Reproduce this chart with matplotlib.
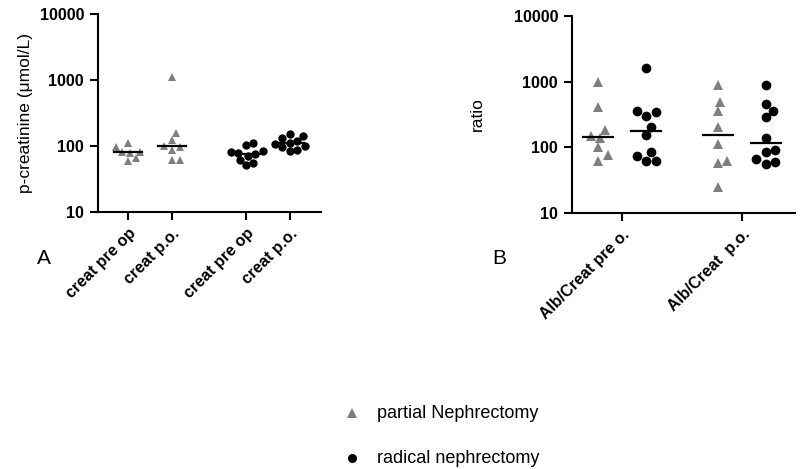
import numpy as np
import matplotlib.pyplot as plt
from matplotlib.lines import Line2D

plt.rcParams["font.family"] = ["Liberation Sans", "DejaVu Sans"]

# panel A: p-creatinine (umol/L)
a_labels = ["creat pre op", "creat p.o.", "creat pre op", "creat p.o."]
a_partial_pre = [95, 110, 82, 80, 78, 65, 60]
a_partial_po = [1100, 157, 125, 100, 98, 86, 62, 61]
a_radical_pre = [111, 103, 85, 81, 78, 75, 70, 61, 55, 52]
a_radical_po = [150, 140, 130, 118, 112, 108, 100, 95, 88, 85]

# panel B: albumin / creatinine ratio
b_labels = ["Alb/Creat pre o.", "Alb/Creat  p.o."]
b_partial_pre = [980, 410, 184, 151, 137, 100, 76, 63]
b_radical_pre = [1600, 362, 341, 303, 202, 154, 84, 75, 63, 63]
b_partial_po = [890, 486, 355, 201, 112, 63, 58, 25]
b_radical_po = [890, 460, 360, 286, 139, 92, 86, 66, 60, 55]

legend_labels = ["partial Nephrectomy", "radical nephrectomy"]

grey = "#7f7f7f"


def swarm(vals, diam, px_unit, px_dec):
    # simple beeswarm: offsets (data units) so markers of diameter diam px don't overlap
    ys = np.log10(vals) * px_dec
    order = np.argsort(ys)
    placed = []
    offs = np.zeros(len(vals))
    steps = [0]
    for k in range(1, 40):
        steps += [k * diam / 4, -k * diam / 4]
    for i in order:
        for s in steps:
            ok = all((s - px) ** 2 + (ys[i] - py) ** 2 >= (diam * 0.95) ** 2 for px, py in placed)
            if ok:
                placed.append((s, ys[i]))
                offs[i] = s / px_unit
                break
    return offs


def draw_group(ax, x, vals, marker, color, ms, diam, px_unit, px_dec, half):
    offs = swarm(vals, diam, px_unit, px_dec)
    ax.plot(x + offs, vals, linestyle="none", marker=marker, color=color,
            markersize=ms, markeredgewidth=0, clip_on=False, zorder=3)
    med = np.median(vals)
    ax.plot([x - half, x + half], [med, med], color="black", lw=1.6, zorder=4)


def style(ax):
    ax.set_yscale("log")
    ax.set_ylim(10, 10000)
    ax.set_yticks([10, 100, 1000, 10000])
    ax.set_yticklabels(["10", "100", "1000", "10000"])
    ax.minorticks_off()
    for sp in ["top", "right"]:
        ax.spines[sp].set_visible(False)
    for sp in ["left", "bottom"]:
        ax.spines[sp].set_linewidth(1.5)
    ax.tick_params(direction="out", length=6, width=1.5, pad=4, labelsize=11.5)
    for t in ax.get_yticklabels():
        t.set_fontweight("bold")


fig = plt.figure(figsize=(8, 4.69), dpi=100)

# panel A
axA = fig.add_axes([98 / 800, 1 - 212 / 469, 223 / 800, 198 / 469])
style(axA)
xa = [0, 1, 2.68, 3.68]
axA.set_xlim(-0.68, 4.39)
draw_group(axA, xa[0], a_partial_pre, "^", grey, 6.3, 8, 44, 66, 0.32)
draw_group(axA, xa[1], a_partial_po, "^", grey, 6.3, 8, 44, 66, 0.32)
draw_group(axA, xa[2], a_radical_pre, "o", "black", 6, 7.5, 44, 66, 0.32)
draw_group(axA, xa[3], a_radical_po, "o", "black", 6, 7.5, 44, 66, 0.32)
axA.set_xticks(xa)
axA.set_xticklabels(a_labels, rotation=45, ha="right", rotation_mode="anchor",
                    fontweight="bold")
axA.set_ylabel("p-creatinine (\u03bcmol/L)", fontsize=12.5, labelpad=5)

# panel B
axB = fig.add_axes([572 / 800, 1 - 213 / 469, 223 / 800, 197 / 469])
style(axB)
xb = [0, 1]
axB.set_xlim(-0.417, 1.442)
gap = 0.2
draw_group(axB, xb[0] - gap, b_partial_pre, "^", grey, 7, 9.5, 120, 66, 0.125)
draw_group(axB, xb[0] + gap, b_radical_pre, "o", "black", 7, 9.5, 120, 66, 0.125)
draw_group(axB, xb[1] - gap, b_partial_po, "^", grey, 7, 9.5, 120, 66, 0.125)
draw_group(axB, xb[1] + gap, b_radical_po, "o", "black", 7, 9.5, 120, 66, 0.125)
axB.set_xticks(xb)
axB.set_xticklabels(b_labels, rotation=45, ha="right", rotation_mode="anchor",
                    fontweight="bold")
axB.set_ylabel("ratio", fontsize=12.5, labelpad=21)

fig.text(44 / 800, 1 - 258 / 469, "A", fontsize=15, ha="center", va="center")
fig.text(499 / 800, 1 - 258 / 469, "B", fontsize=15, ha="center", va="center")

# legend drawn by hand
leg_y = [1 - 413 / 469, 1 - 458 / 469]
fig.add_artist(Line2D([352 / 800], [leg_y[0]], linestyle="none", marker="^", color=grey,
                      markersize=6.5, markeredgewidth=0, transform=fig.transFigure))
fig.add_artist(Line2D([352 / 800], [leg_y[1]], linestyle="none", marker="o", color="black",
                      markersize=6.5, markeredgewidth=0, transform=fig.transFigure))
for yy, lab in zip(leg_y, legend_labels):
    fig.text(377 / 800, yy, lab, fontsize=13, ha="left", va="center")

fig.savefig("out.png", dpi=100)
